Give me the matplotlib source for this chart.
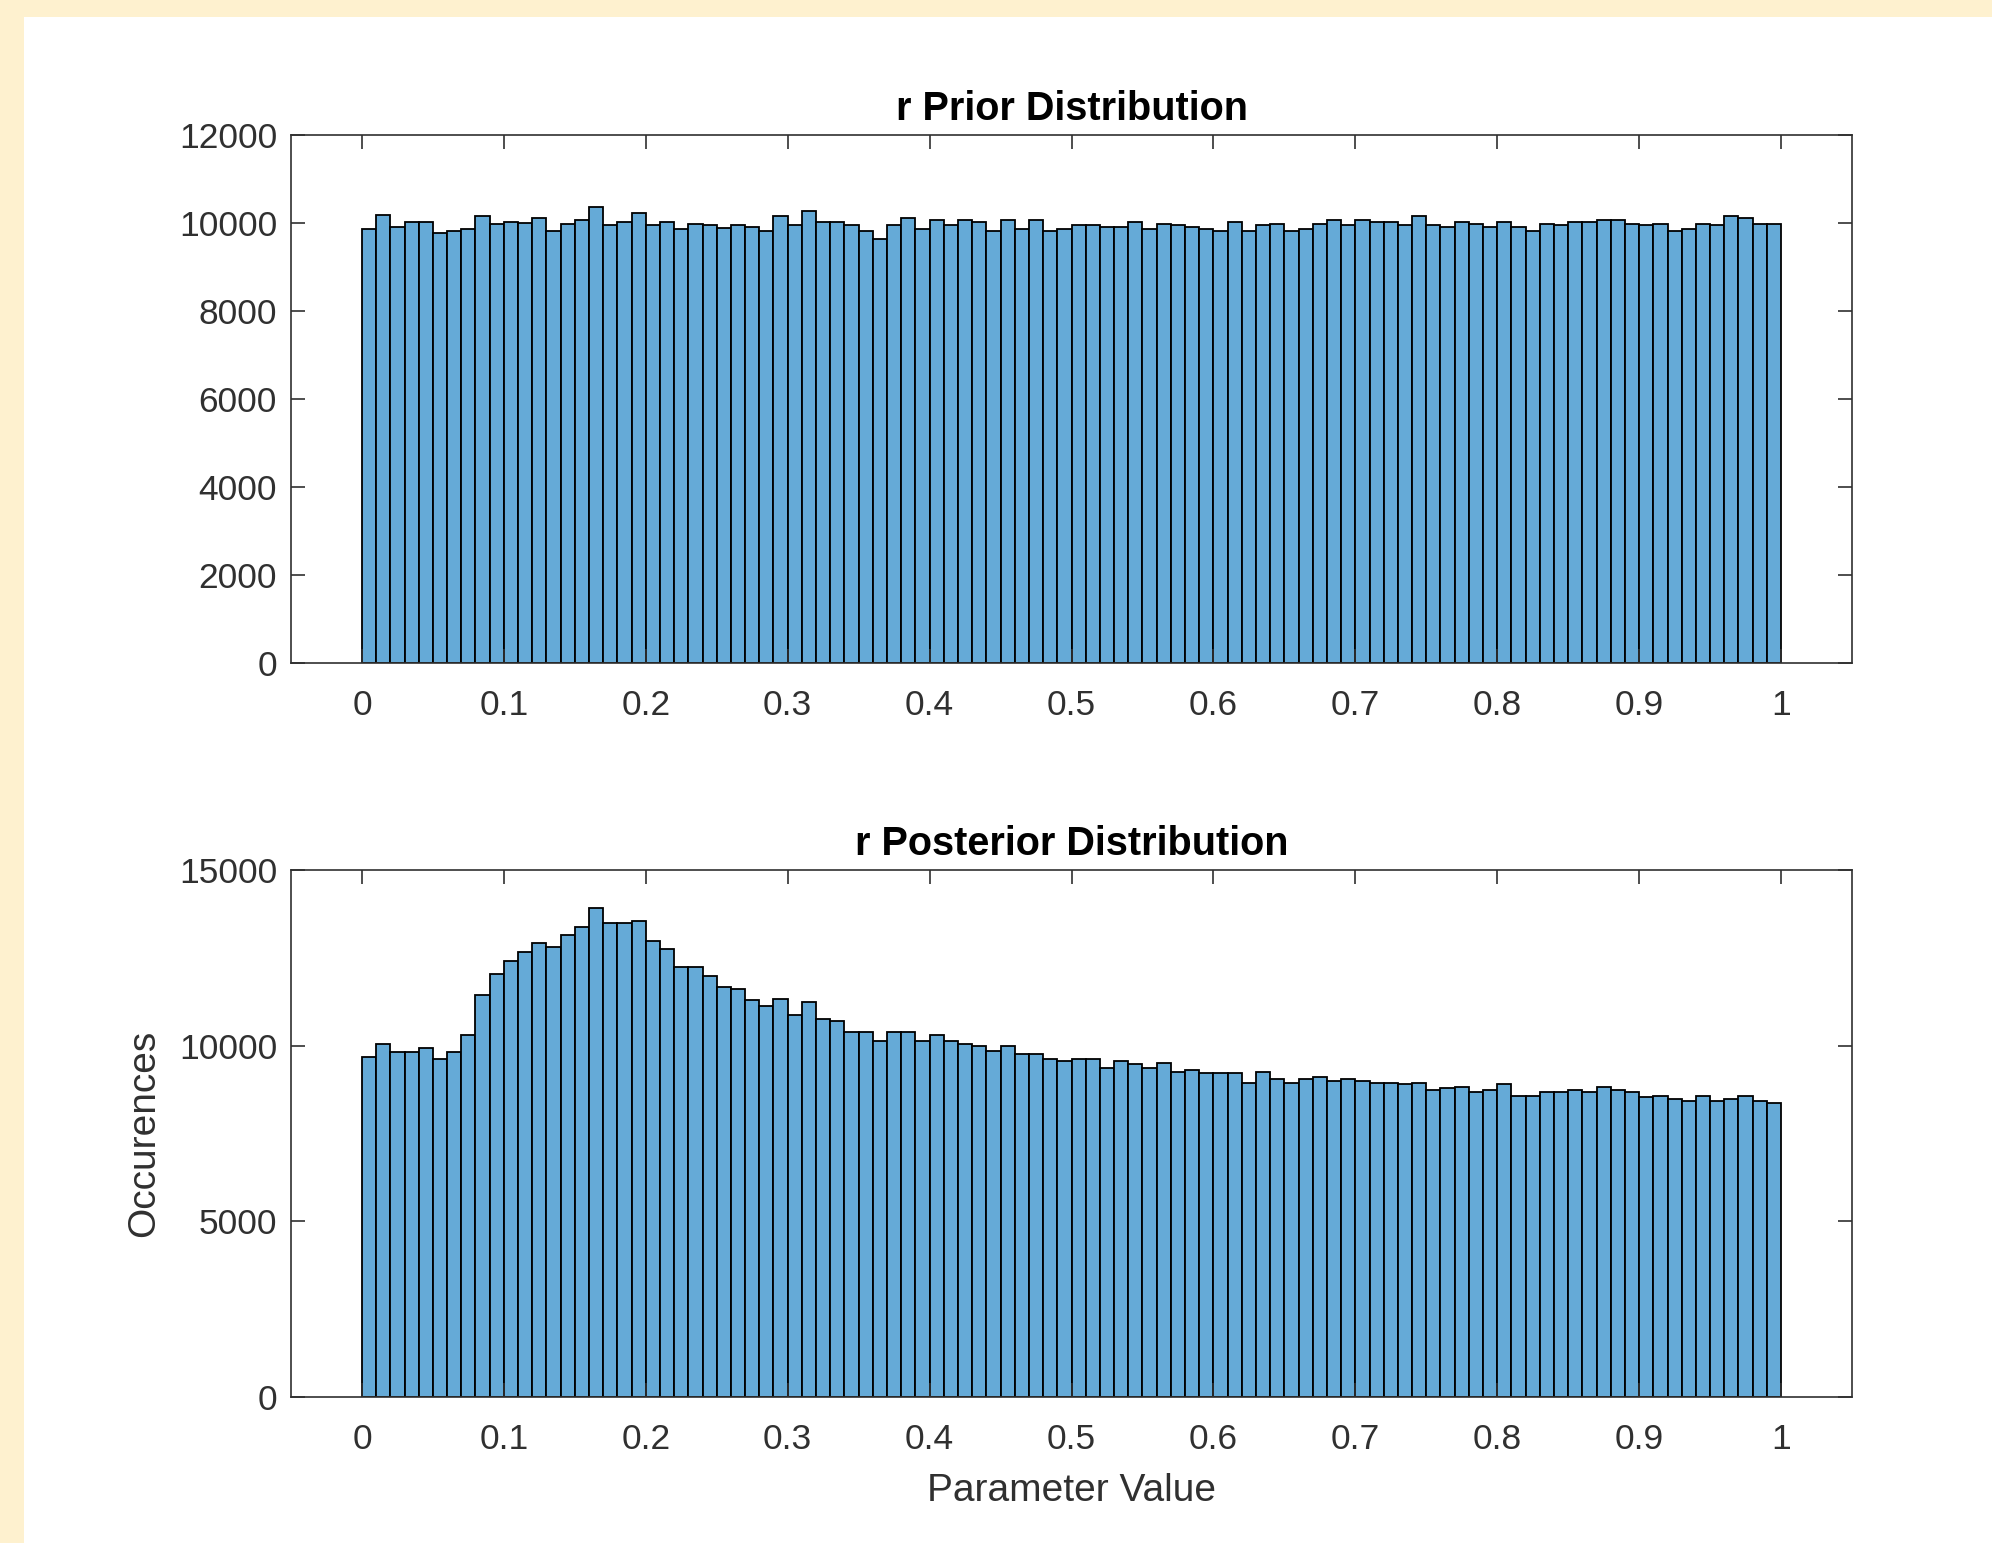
import numpy as np
import matplotlib
matplotlib.use("Agg")
import matplotlib.pyplot as plt
from matplotlib.patches import Rectangle

# histogram bin edges (100 bins on [0, 1])
bin_edges = np.linspace(0, 1, 101)

# r prior counts
prior_counts = [
    9857, 10189, 9910, 10023, 10023, 9774, 9819, 9864, 10151, 9985,
    10023, 9992, 10113, 9819, 9985, 10068, 10362, 9947, 10030, 10234,
    9947, 10023, 9864, 9985, 9947, 9894, 9947, 9910, 9811, 10151,
    9947, 10271, 10015, 10015, 9947, 9811, 9646, 9947, 10113, 9857,
    10060, 9947, 10060, 10015, 9811, 10060, 9857, 10060, 9811, 9857,
    9947, 9947, 9902, 9902, 10023, 9857, 9977, 9947, 9902, 9857,
    9811, 10023, 9811, 9947, 9977, 9811, 9857, 9985, 10060, 9947,
    10068, 10023, 10023, 9947, 10151, 9947, 9902, 10023, 9985, 9902,
    10023, 9910, 9811, 9977, 9947, 10023, 10023, 10060, 10060, 9985,
    9947, 9985, 9811, 9864, 9985, 9947, 10151, 10113, 9977, 9977,
]

# r posterior counts
posterior_counts = [
    9683, 10034, 9815, 9815, 9929, 9616, 9825, 10308, 11456, 12034,
    12405, 12661, 12926, 12822, 13144, 13391, 13921, 13505, 13505, 13552,
    12983, 12765, 12243, 12243, 11977, 11665, 11608, 11314, 11143, 11342,
    10887, 11238, 10773, 10716, 10394, 10394, 10147, 10394, 10394, 10137,
    10290, 10137, 10043, 9986, 9834, 9996, 9777, 9777, 9616, 9569,
    9616, 9616, 9351, 9569, 9474, 9351, 9512, 9256, 9303, 9209,
    9209, 9209, 8943, 9256, 9038, 8943, 9038, 9095, 8991, 9047,
    8991, 8943, 8943, 8895, 8943, 8734, 8781, 8829, 8677, 8725,
    8895, 8563, 8563, 8677, 8677, 8725, 8677, 8829, 8725, 8677,
    8526, 8573, 8469, 8412, 8573, 8412, 8469, 8573, 8412, 8355,
]

x_ticks = [0, 0.1, 0.2, 0.3, 0.4, 0.5, 0.6, 0.7, 0.8, 0.9, 1]
x_ticklabels = ["0", "0.1", "0.2", "0.3", "0.4", "0.5", "0.6", "0.7", "0.8", "0.9", "1"]
prior_yticks = [0, 2000, 4000, 6000, 8000, 10000, 12000]
post_yticks = [0, 5000, 10000, 15000]

plt.rcParams["font.family"] = ["Liberation Sans", "DejaVu Sans"]

W, H = 1992, 1543
fig = plt.figure(figsize=(W / 100, H / 100), dpi=100)
fig.patch.set_facecolor("#fef1cf")
# white panel inside the cream frame
fig.patches.append(Rectangle((24 / W, 0), 1, 1 - 17 / H, transform=fig.transFigure,
                             facecolor="white", edgecolor="none", zorder=-10))

bar_color = "#65aad7"
axis_color = "#303030"

def setup(ax, counts, yticks, ymax, title):
    ax.bar(bin_edges[:-1], counts, width=np.diff(bin_edges), align="edge",
           color=bar_color, edgecolor="black", linewidth=1.3)
    ax.set_xlim(-0.05, 1.05)
    ax.set_ylim(0, ymax)
    ax.set_xticks(x_ticks)
    ax.set_xticklabels(x_ticklabels)
    ax.set_yticks(yticks)
    ax.set_yticklabels([str(v) for v in yticks])
    ax.tick_params(direction="in", top=True, right=True, length=10, width=1.2,
                   labelsize=25.5, colors=axis_color)
    ax.tick_params(axis="x", pad=19)
    ax.tick_params(axis="y", pad=10)
    for s in ax.spines.values():
        s.set_color(axis_color)
        s.set_linewidth(1.2)
    ax.set_title(title, fontsize=28.5, fontweight="bold", pad=11)

ax1 = fig.add_axes([291 / W, 1 - 663 / H, (1852 - 291) / W, (663 - 135) / H])
setup(ax1, prior_counts, prior_yticks, 12000, "r Prior Distribution")

ax2 = fig.add_axes([291 / W, 1 - 1397 / H, (1852 - 291) / W, (1397 - 870) / H])
setup(ax2, posterior_counts, post_yticks, 15000, "r Posterior Distribution")
ax2.set_xlabel("Parameter Value", fontsize=28, color=axis_color, labelpad=12)
ax2.set_ylabel("Occurences", fontsize=28, color=axis_color, labelpad=12)

fig.savefig("out.png", dpi=100, facecolor=fig.get_facecolor())
